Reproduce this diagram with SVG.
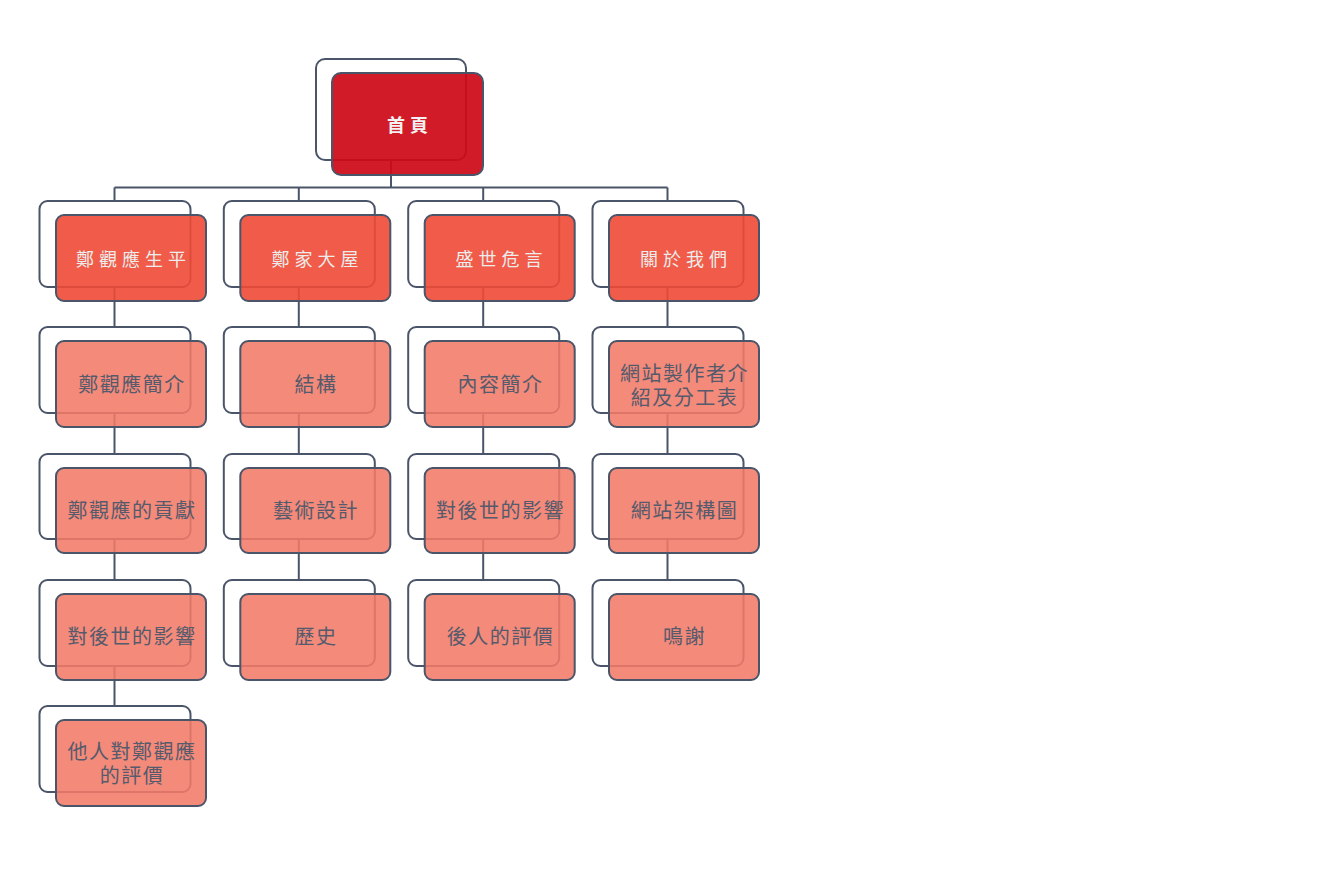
<svg xmlns="http://www.w3.org/2000/svg" width="1327" height="877" viewBox="0 0 1327 877">
<style>
.bg{fill:#ffffff}
.conn{stroke:#4b5569;stroke-width:2;fill:none}
.back{fill:none;stroke:#4b5569;stroke-width:2}
.front{stroke:#4b5569;stroke-width:2}
.l0{fill:#cf0a18;fill-opacity:0.93}
.l1{fill:#ef4a36;fill-opacity:0.9}
.l2{fill:#f17a68;fill-opacity:0.88}
text{font-family:"Noto Sans CJK TC","Noto Sans CJK SC",sans-serif;text-anchor:middle;dominant-baseline:central}
.t0{fill:#f2f2f2;font-size:18px;font-weight:bold;letter-spacing:5px}
.t1{fill:#ececec;font-size:18px;letter-spacing:5px}
.t2{fill:#555a6c;font-size:20px;letter-spacing:1.5px}
</style>
<rect class="bg" x="0" y="0" width="1327" height="877"/>
<g id="connectors">
<path class="conn" d="M391,160 V187.5 M114.5,187.5 H667.5 M114.5,187.5 V201 M298.8,187.5 V201 M483.2,187.5 V201 M667.5,187.5 V201"/>
<path class="conn" d="M114.5,287 V327 M114.5,413 V454 M114.5,539 V580 M114.5,666 V706"/>
<path class="conn" d="M298.8,287 V327 M298.8,413 V454 M298.8,539 V580"/>
<path class="conn" d="M483.2,287 V327 M483.2,413 V454 M483.2,539 V580"/>
<path class="conn" d="M667.5,287 V327 M667.5,413 V454 M667.5,539 V580"/>
</g>
<g id="n-home">
<rect class="back" x="316" y="59" width="150" height="101" rx="9"/>
<rect class="front l0" x="332" y="73" width="151" height="102" rx="9"/>
<text class="t0" x="410" y="124">首頁</text>
</g>
<g id="n-life">
<rect class="back" x="39.5" y="201" width="151" height="86" rx="8"/>
<rect class="front l1" x="56" y="215" width="150" height="86" rx="8"/>
<text class="t1" x="133.5" y="258">鄭觀應生平</text>
</g>
<g id="n-house">
<rect class="back" x="223.8" y="201" width="151" height="86" rx="8"/>
<rect class="front l1" x="240.3" y="215" width="150" height="86" rx="8"/>
<text class="t1" x="317.5" y="258">鄭家大屋</text>
</g>
<g id="n-words">
<rect class="back" x="408.2" y="201" width="151" height="86" rx="8"/>
<rect class="front l1" x="424.7" y="215" width="150" height="86" rx="8"/>
<text class="t1" x="501.5" y="258">盛世危言</text>
</g>
<g id="n-about">
<rect class="back" x="592.5" y="201" width="151" height="86" rx="8"/>
<rect class="front l1" x="609" y="215" width="150" height="86" rx="8"/>
<text class="t1" x="686" y="258">關於我們</text>
</g>
<g id="n-1-1">
<rect class="back" x="39.5" y="327" width="151" height="86" rx="8"/>
<rect class="front l2" x="56" y="341" width="150" height="86" rx="8"/>
<text class="t2" x="132" y="383">鄭觀應簡介</text>
</g>
<g id="n-1-2">
<rect class="back" x="39.5" y="454" width="151" height="85" rx="8"/>
<rect class="front l2" x="56" y="468" width="150" height="85" rx="8"/>
<text class="t2" x="132" y="509">鄭觀應的貢獻</text>
</g>
<g id="n-1-3">
<rect class="back" x="39.5" y="580" width="151" height="86" rx="8"/>
<rect class="front l2" x="56" y="594" width="150" height="86" rx="8"/>
<text class="t2" x="132" y="635">對後世的影響</text>
</g>
<g id="n-1-4">
<rect class="back" x="39.5" y="706" width="151" height="86" rx="8"/>
<rect class="front l2" x="56" y="720" width="150" height="86" rx="8"/>
<text class="t2" x="132" y="750">他人對鄭觀應</text>
<text class="t2" x="132" y="774">的評價</text>
</g>
<g id="n-2-1">
<rect class="back" x="223.8" y="327" width="151" height="86" rx="8"/>
<rect class="front l2" x="240.3" y="341" width="150" height="86" rx="8"/>
<text class="t2" x="316" y="383">結構</text>
</g>
<g id="n-2-2">
<rect class="back" x="223.8" y="454" width="151" height="85" rx="8"/>
<rect class="front l2" x="240.3" y="468" width="150" height="85" rx="8"/>
<text class="t2" x="316" y="509">藝術設計</text>
</g>
<g id="n-2-3">
<rect class="back" x="223.8" y="580" width="151" height="86" rx="8"/>
<rect class="front l2" x="240.3" y="594" width="150" height="86" rx="8"/>
<text class="t2" x="316" y="635">歷史</text>
</g>
<g id="n-3-1">
<rect class="back" x="408.2" y="327" width="151" height="86" rx="8"/>
<rect class="front l2" x="424.7" y="341" width="150" height="86" rx="8"/>
<text class="t2" x="500.5" y="383">內容簡介</text>
</g>
<g id="n-3-2">
<rect class="back" x="408.2" y="454" width="151" height="85" rx="8"/>
<rect class="front l2" x="424.7" y="468" width="150" height="85" rx="8"/>
<text class="t2" x="500.5" y="509">對後世的影響</text>
</g>
<g id="n-3-3">
<rect class="back" x="408.2" y="580" width="151" height="86" rx="8"/>
<rect class="front l2" x="424.7" y="594" width="150" height="86" rx="8"/>
<text class="t2" x="500.5" y="635">後人的評價</text>
</g>
<g id="n-4-1">
<rect class="back" x="592.5" y="327" width="151" height="86" rx="8"/>
<rect class="front l2" x="609" y="341" width="150" height="86" rx="8"/>
<text class="t2" x="684.5" y="372">網站製作者介</text>
<text class="t2" x="684.5" y="396">紹及分工表</text>
</g>
<g id="n-4-2">
<rect class="back" x="592.5" y="454" width="151" height="85" rx="8"/>
<rect class="front l2" x="609" y="468" width="150" height="85" rx="8"/>
<text class="t2" x="684.5" y="509">網站架構圖</text>
</g>
<g id="n-4-3">
<rect class="back" x="592.5" y="580" width="151" height="86" rx="8"/>
<rect class="front l2" x="609" y="594" width="150" height="86" rx="8"/>
<text class="t2" x="684.5" y="635">鳴謝</text>
</g>
</svg>
